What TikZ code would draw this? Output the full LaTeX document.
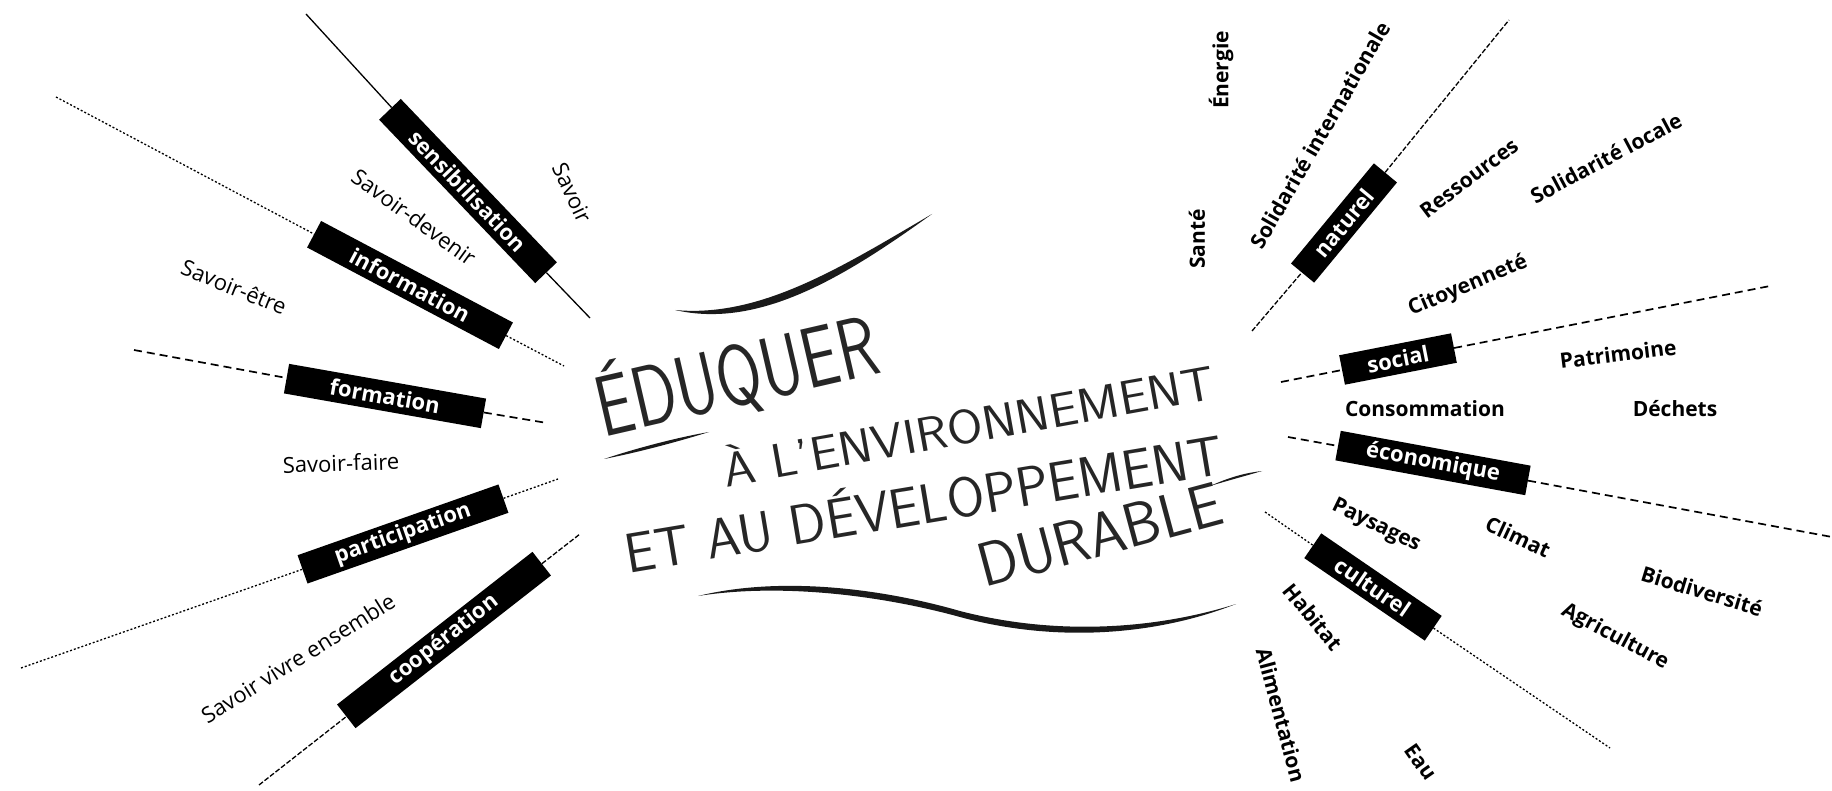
\documentclass[tikz,border=0pt]{standalone}
\usepackage{fontspec}
\setmainfont{Open Sans}
\begin{document}
\begin{tikzpicture}[x=1pt,y=-1pt,
  lab/.style={font=\fontsize{22}{22}\selectfont, inner sep=0pt},
  labb/.style={font=\bfseries\fontsize{21}{21}\selectfont, inner sep=0pt},
  boxn/.style={fill=black, text=white, font=\bfseries\fontsize{22}{22}\selectfont, minimum height=30pt, inner sep=0pt},
  ttl/.style={inner sep=0pt, text=black!85},
  spoke/.style={line width=1.3pt},
  fdots/.style={spoke, dash pattern=on 2pt off 2pt},
  fdash/.style={spoke, dash pattern=on 5pt off 2pt},
  bdash/.style={line width=1.7pt, dash pattern=on 8pt off 5pt},
  sw/.style={fill=black!90}
]
\useasboundingbox (0,0) rectangle (1832,791);

% ---------- left spokes ----------
\node[boxn, minimum width=226pt, rotate=-46.3] (sens) at (468,191) {sensibilisation};
\node[boxn, minimum width=217pt, rotate=-27.9] (info) at (410,285) {information};
\node[boxn, minimum width=200pt, rotate=-10] (form) at (385,396) {formation};
\node[boxn, minimum width=213pt, rotate=19.4] (part) at (403,534) {participation};
\node[boxn, minimum width=248pt, rotate=38] (coop) at (444,640) {coopération};

\coordinate (sensA) at (306,14);  \coordinate (sensB) at (590,318);
\coordinate (infoA) at (56,97);   \coordinate (infoB) at (564,366);
\coordinate (formA) at (134,350); \coordinate (formB) at (547,423);
\coordinate (partA) at (21,668);  \coordinate (partB) at (558,479);
\coordinate (coopA) at (259,785); \coordinate (coopB) at (580,534);

\draw[spoke] (sensA) -- (sens);  \draw[spoke] (sens) -- (sensB);
\draw[fdots] (infoA) -- (info);  \draw[fdots] (info) -- (infoB);
\draw[bdash] (formA) -- (form);  \draw[bdash] (form) -- (formB);
\draw[fdots] (partA) -- (part);  \draw[fdots] (part) -- (partB);
\draw[fdash] (coopA) -- (coop);  \draw[fdash] (coop) -- (coopB);

% ---------- right spokes ----------
\node[boxn, minimum width=130pt, rotate=50.4] (natu) at (1344,223) {naturel};
\node[boxn, minimum width=114pt, rotate=11.1] (soci) at (1398,359) {social};
\node[boxn, minimum width=193pt, rotate=-10.4] (econ) at (1433,463) {économique};
\node[boxn, minimum width=146pt, rotate=-34.4] (cult) at (1373,587) {culturel};

\coordinate (natuA) at (1252,331); \coordinate (natuB) at (1509,20);
\coordinate (sociA) at (1281,382); \coordinate (sociB) at (1770,286);
\coordinate (econA) at (1288,437); \coordinate (econB) at (1832,537);
\coordinate (cultA) at (1265,512); \coordinate (cultB) at (1610,748);

\draw[fdash] (natuA) -- (natu);  \draw[fdash] (natu) -- (natuB);
\draw[bdash] (sociA) -- (soci);  \draw[bdash] (soci) -- (sociB);
\draw[bdash] (econA) -- (econ);  \draw[bdash] (econ) -- (econB);
\draw[fdots] (cultA) -- (cult);  \draw[fdots] (cult) -- (cultB);

% ---------- left labels ----------
\node[lab, rotate=-65] (savoir) at (572,193) {Savoir};
\node[lab, rotate=-36] (sdev) at (414,217) {Savoir-devenir};
\node[lab, rotate=-22] (setre) at (234,287) {Savoir-être};
\node[lab, rotate=2] (sfaire) at (341,463) {Savoir-faire};
\node[lab, rotate=32] (svivre) at (298,658) {Savoir vivre ensemble};

% ---------- right labels ----------
\node[labb, rotate=90] (energie) at (1221,70) {Énergie};
\node[labb, rotate=90] (sante) at (1197,239) {Santé};
\node[labb, rotate=60] (solint) at (1320,135) {Solidarité internationale};
\node[labb, rotate=37] (ress) at (1469,178) {Ressources};
\node[labb, rotate=28] (solloc) at (1606,158) {Solidarité locale};
\node[labb, rotate=23] (citoy) at (1468,286) {Citoyenneté};
\node[labb, rotate=7] (patri) at (1618,354) {Patrimoine};
\node[labb] (conso) at (1425,409) {Consommation};
\node[labb] (dechets) at (1675,409) {Déchets};
\node[labb, rotate=-26] (pays) at (1376,526) {Paysages};
\node[labb, rotate=-25] (climat) at (1518,537) {Climat};
\node[labb, rotate=-17] (biodiv) at (1702,591) {Biodiversité};
\node[labb, rotate=-28] (agri) at (1615,637) {Agriculture};
\node[labb, rotate=-51] (habitat) at (1313,617) {Habitat};
\node[labb, rotate=-75] (alim) at (1281,715) {Alimentation};
\node[labb, rotate=-55] (eau) at (1421,762) {Eau};

% ---------- title ----------
\node[ttl, font=\sffamily\fontsize{86}{86}\selectfont, rotate=13, xscale=0.76] (edu) at (736,374) {ÉDUQUER};
\node[ttl, font=\sffamily\fontsize{48}{48}\selectfont, rotate=10.2, xscale=1.07] (envi) at (968,423) {À L'ENVIRONNEMENT};
\node[ttl, font=\sffamily\fontsize{56}{56}\selectfont, rotate=9.5, xscale=0.97] (deve) at (923,500) {ET AU DÉVELOPPEMENT};
\node[ttl, font=\sffamily\fontsize{62}{62}\selectfont, rotate=15, xscale=0.95] (dura) at (1100,535) {DURABLE};

% ---------- brush strokes ----------
\fill[sw] (675,310) .. controls (760,318) and (840,268) .. (932,214)
          .. controls (842,279) and (758,329) .. (675,310) -- cycle;
\fill[sw] (604,459) .. controls (640,447) and (680,437) .. (709,432)
          .. controls (680,441) and (640,452) .. (604,459) -- cycle;
\fill[sw] (698,596) .. controls (780,576) and (880,588) .. (960,611)
          .. controls (1060,637) and (1160,628) .. (1236,604)
          .. controls (1160,634) and (1060,644) .. (960,617)
          .. controls (880,595) and (780,583) .. (698,596) -- cycle;
\fill[sw] (1210,486) .. controls (1230,477) and (1245,473) .. (1262,471)
          .. controls (1245,476) and (1230,480) .. (1210,486) -- cycle;
\end{tikzpicture}
\end{document}
